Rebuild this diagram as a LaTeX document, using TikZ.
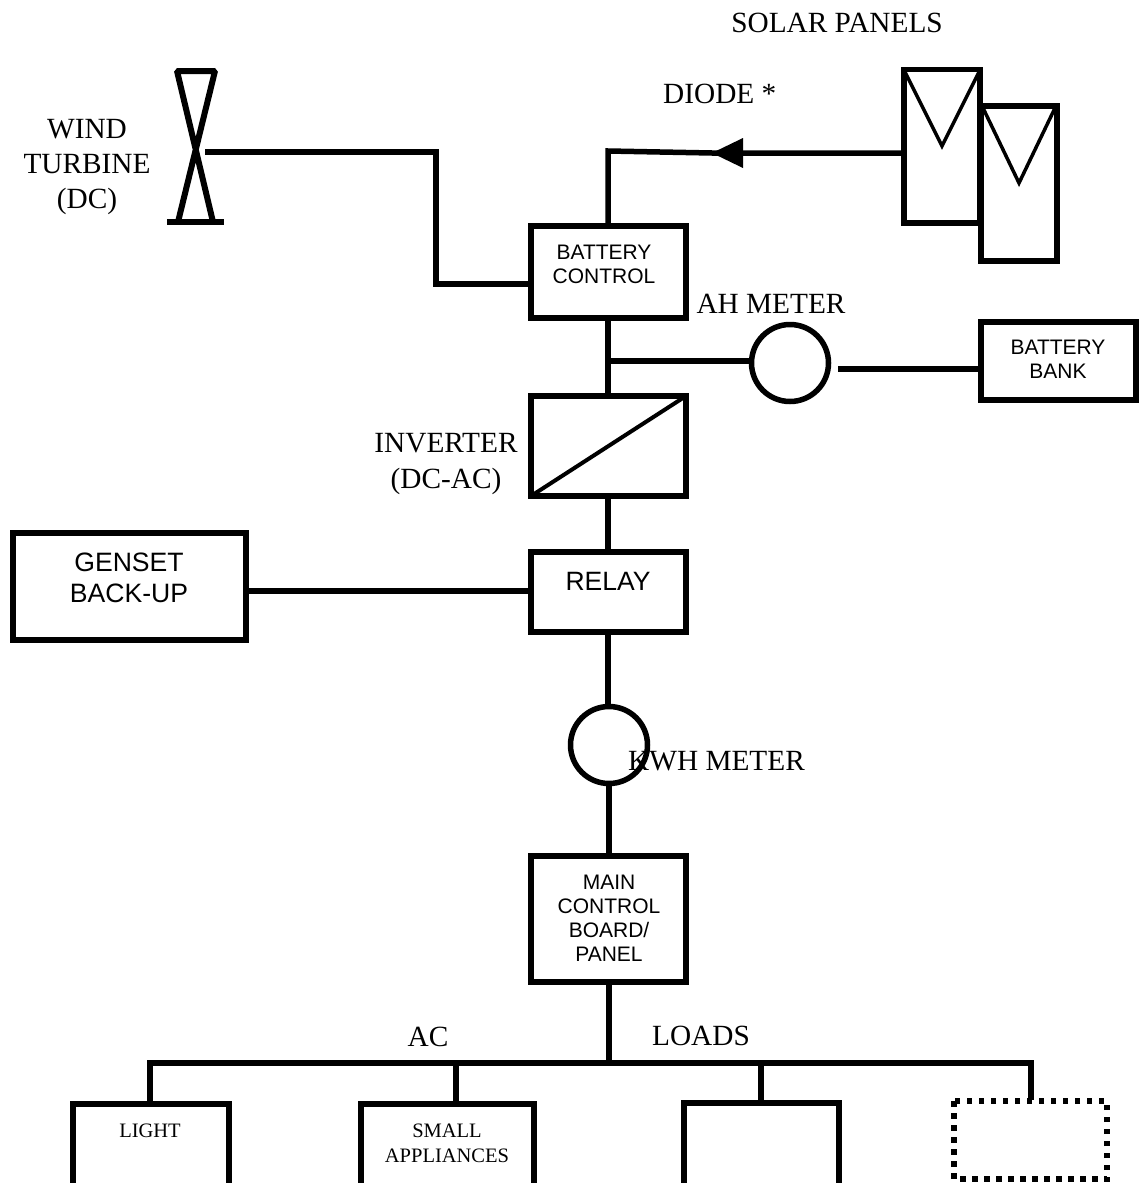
\documentclass[tikz,border=0pt]{standalone}
\usepackage{fontspec}
\setmainfont{Liberation Serif}
\newfontfamily\arial{Liberation Sans}
\begin{document}
\begin{tikzpicture}[x=1pt,y=-1pt,
  box/.style={draw=black,line width=5.5pt,fill=white,inner sep=0pt,outer sep=0pt,align=center,font=\arial,anchor=north west},
  wire/.style={draw=black,line width=5.5pt},
  meter/.style={draw,circle,line width=5.5pt,minimum size=77pt,inner sep=0pt,outer sep=0pt},
  lab/.style={font=\fontsize{29.3}{30}\selectfont,align=center,inner sep=0pt},
  sl/.style={font=\arial\fontsize{21}{24}\selectfont,align=center,inner sep=0pt},
  xs/.style={font=\fontsize{20.5}{25}\selectfont,align=center,inner sep=0pt}]
\useasboundingbox (0,0) rectangle (1144,1183);
\node[box,minimum width=155pt,minimum height=92pt] (bc) at (531,226) {};
\node[sl] (bct) at (604,264) {BATTERY\\CONTROL};
\node[box,minimum width=155pt,minimum height=100pt] (inv) at (531,396) {};
\draw[line width=4pt] (inv.south west) -- (inv.north east);
\node[box,minimum width=155pt,minimum height=80pt] (rel) at (531,552) {};
\node[font=\arial\fontsize{26.5}{24}\selectfont,inner sep=0pt] (relt) at (608,581) {RELAY};
\node[box,minimum width=233pt,minimum height=107pt] (gen) at (13,533) {};
\node[font=\arial\fontsize{26.6}{31}\selectfont,align=center,inner sep=0pt] (gent) at (129,578) {GENSET\\BACK-UP};
\node[box,minimum width=155pt,minimum height=126pt] (mcb) at (531,856) {};
\node[sl] (mcbt) at (609,918) {MAIN\\CONTROL\\BOARD/\\PANEL};
\node[box,minimum width=155pt,minimum height=78pt] (bb) at (981,322) {};
\node[sl] (bbt) at (1058,359) {BATTERY\\BANK};
\node[meter] (ah) at (790,363) {};
\node[meter,fill=white] (kwh) at (609,745) {};
\coordinate (jt) at (608,151);
\coordinate (s1) at (904,153);
\coordinate (s0) at (712,153);
\coordinate (wt) at (205,152);
\coordinate (w2) at (436,152);
\coordinate (w3) at (436,284);
\coordinate (j2) at (608,361);
\coordinate (bbl) at (838,369);
\draw[wire] (bc.north -| jt) -- (jt) -- (s0) -- (s1);
\draw[wire] (wt) -- (w2) -- (w3) -- (bc.west |- w3);
\draw[wire] (bc.south -| jt) -- (inv.north -| jt);
\draw[wire] (j2) -- (j2 -| ah.west);
\draw[wire] (bbl) -- (bb.west |- bbl);
\draw[wire] (inv.south -| jt) -- (rel.north -| jt);
\draw[wire] (gen.east |- 0,591) -- (rel.west |- 0,591);
\draw[wire] (rel.south -| jt) -- (jt |- kwh.north);
\draw[wire] (kwh.south) -- (kwh.south |- mcb.north);
\coordinate (bus) at (609,1063);
\draw[wire] (mcb.south -| bus) -- (bus);
\draw[wire] (150,1103) -- (150,1063) -- (1031,1063) -- (1031,1100);
\draw[wire] (456,1063) -- (456,1103);
\draw[wire] (761,1063) -- (761,1103);
\fill (712,153) -- (743,138) -- (743,168) -- cycle;
\draw[line width=6pt,line join=bevel] (178,222) -- (215,71) -- (177,71) -- (213,222);
\draw[line width=6pt] (167,222) -- (224,222);
\draw[line width=5.5pt] (904,69.5) rectangle (980,223);
\draw[line width=3.5pt] (905,72) -- (942,146) -- (979,72);
\draw[line width=5.5pt,fill=white] (981,106) rectangle (1057,261);
\draw[line width=3.5pt] (983,108) -- (1019,183) -- (1055,108);
\node[box,minimum width=156pt,minimum height=90pt] (l1) at (73,1104) {};
\node[box,minimum width=173pt,minimum height=90pt] (l2) at (361,1104) {};
\node[box,minimum width=155pt,minimum height=90pt] (l3) at (684,1103) {};
\draw[line width=5.5pt,dash pattern=on 5.5pt off 6.5pt] (954,1101) rectangle (1107,1179);
\node[xs] (l1t) at (150,1131) {LIGHT};
\node[xs] (l2t) at (447,1143) {SMALL\\APPLIANCES};
\node[lab] (sp) at (837,23) {SOLAR PANELS};
\node[lab,anchor=west] (di) at (663,94) {DIODE *};
\node[lab,font=\fontsize{29.3}{35}\selectfont] (wtl) at (87,167) {WIND\\TURBINE\\(DC)};
\node[lab] (ahl) at (771,304) {AH METER};
\node[lab,font=\fontsize{29.3}{36}\selectfont] (invl) at (446,464) {INVERTER\\(DC-AC)};
\node[lab,anchor=west] (kl) at (628,761) {KWH METER};
\node[lab] (ac) at (428,1037) {AC};
\node[lab] (lo) at (701,1036) {LOADS};
\end{tikzpicture}
\end{document}
